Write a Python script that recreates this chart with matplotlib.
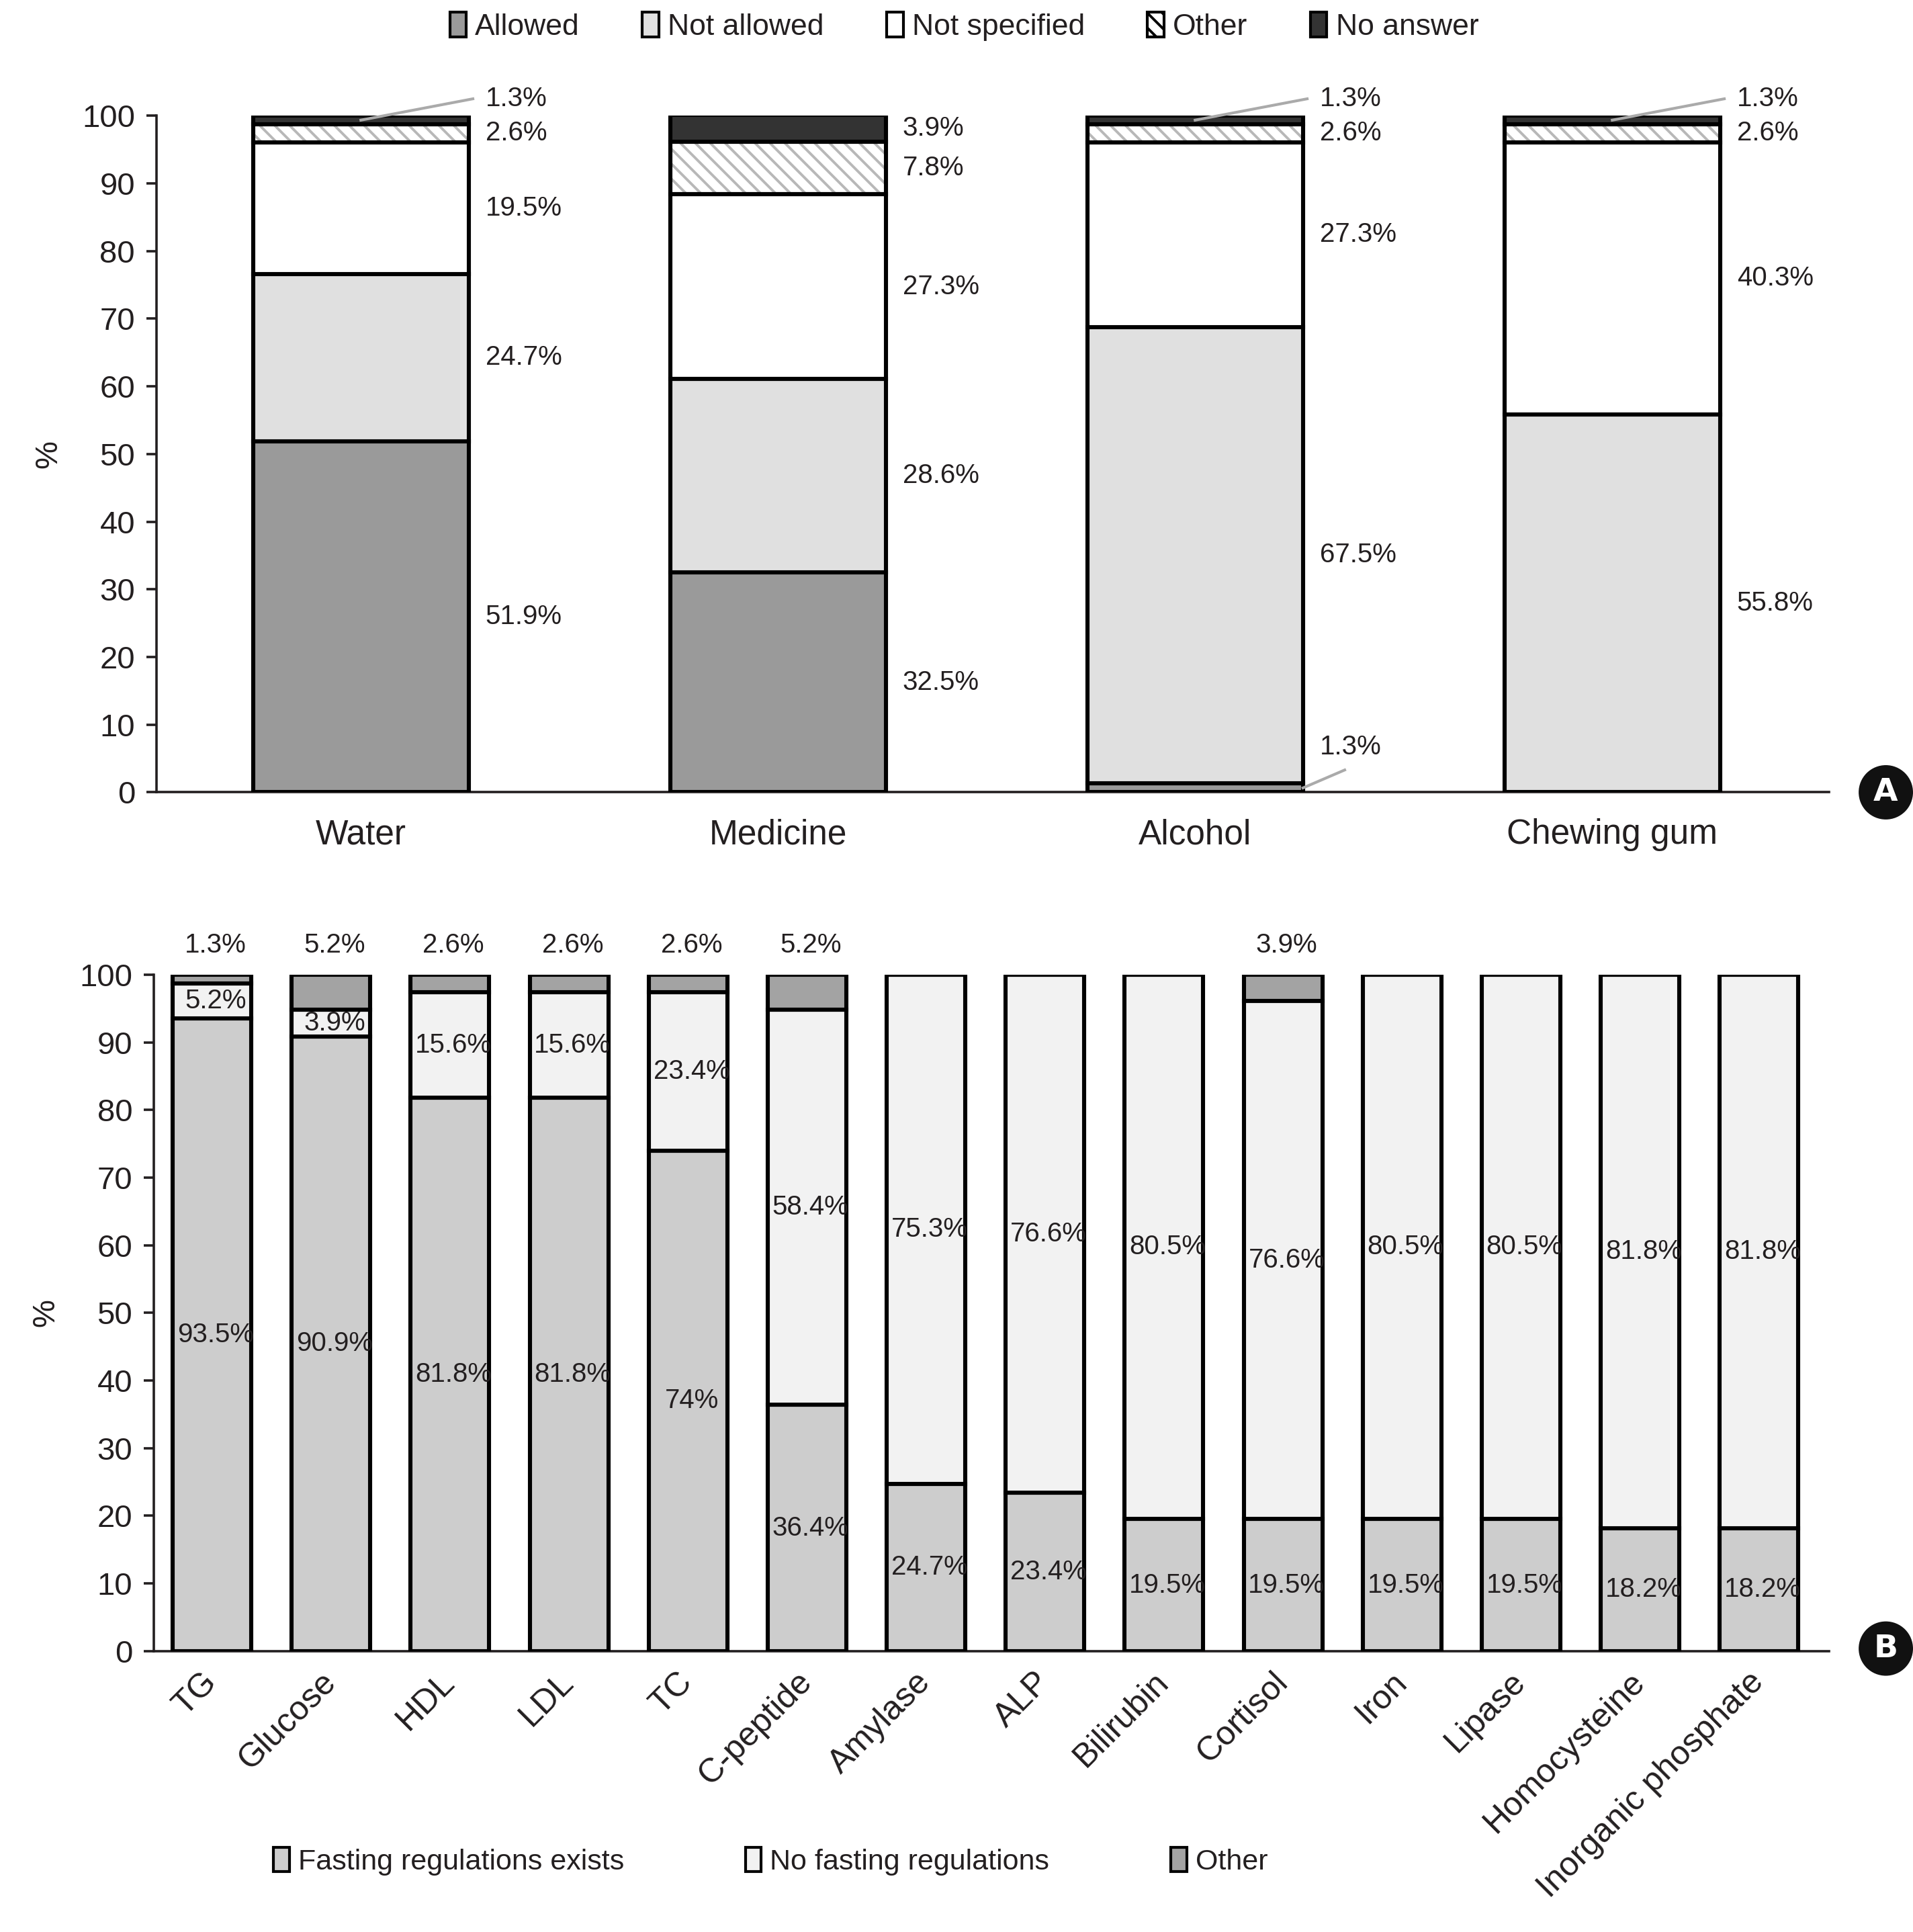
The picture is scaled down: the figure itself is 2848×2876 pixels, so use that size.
import matplotlib
matplotlib.use("Agg")
import matplotlib.pyplot as plt
from matplotlib.patches import Patch
from matplotlib import font_manager
import numpy as np

# ---------------- data ----------------
cats_a = ["Water", "Medicine", "Alcohol", "Chewing gum"]
series_a = ["Allowed", "Not allowed", "Not specified", "Other", "No answer"]
allowed = [51.9, 32.5, 1.3, 0.0]
not_allowed = [24.7, 28.6, 67.5, 55.8]
not_specified = [19.5, 27.3, 27.3, 40.3]
other_a = [2.6, 7.8, 2.6, 2.6]
no_answer = [1.3, 3.9, 1.3, 1.3]

cats_b = ["TG", "Glucose", "HDL", "LDL", "TC", "C-peptide", "Amylase", "ALP",
          "Bilirubin", "Cortisol", "Iron", "Lipase", "Homocysteine",
          "Inorganic phosphate"]
series_b = ["Fasting regulations exists", "No fasting regulations", "Other"]
fasting = [93.5, 90.9, 81.8, 81.8, 74, 36.4, 24.7, 23.4, 19.5, 19.5, 19.5, 19.5, 18.2, 18.2]
no_fasting = [5.2, 3.9, 15.6, 15.6, 23.4, 58.4, 75.3, 76.6, 80.5, 76.6, 80.5, 80.5, 81.8, 81.8]
other_b = [1.3, 5.2, 2.6, 2.6, 2.6, 5.2, 0, 0, 0, 3.9, 0, 0, 0, 0]
yticks = list(range(0, 101, 10))

# ---------------- style ----------------
avail = {f.name for f in font_manager.fontManager.ttflist}
fam = ["Liberation Sans Narrow", "DejaVu Sans"] if "Liberation Sans Narrow" in avail else ["Liberation Sans", "DejaVu Sans"]
plt.rcParams["font.family"] = fam
plt.rcParams["hatch.linewidth"] = 1.4
TXT = "#231f20"

fig = plt.figure(figsize=(14.24, 14.38), dpi=200)

def fmt(v):
    return f"{v:g}%"

def style_axes(ax):
    for s in ["top", "right"]:
        ax.spines[s].set_visible(False)
    ax.spines["left"].set_linewidth(1.3)
    ax.spines["bottom"].set_linewidth(1.3)
    ax.spines["left"].set_color(TXT)
    ax.spines["bottom"].set_color(TXT)
    ax.set_ylim(0, 100)
    ax.set_yticks(yticks)
    ax.tick_params(axis="y", direction="out", length=5.5, width=1.3, labelsize=17,
                   colors=TXT, pad=6)
    ax.tick_params(axis="x", length=0)
    ax.set_ylabel("%", fontsize=17, color=TXT, labelpad=10)

# ---------------- panel A ----------------
axA = fig.add_axes([0.0818, 0.5899, 0.8744, 0.3502])
xa = np.arange(len(cats_a))
wa = 0.517
fills_a = ["#9a9a9a", "#e0e0e0", "#ffffff", "#ffffff", "#333333"]
data_a = [allowed, not_allowed, not_specified, other_a, no_answer]
bottom = np.zeros(len(cats_a))
for k, (vals, fc) in enumerate(zip(data_a, fills_a)):
    vals = np.array(vals)
    if series_a[k] == "Other":
        axA.bar(xa, vals, wa, bottom=bottom, color="white", edgecolor="#b8b8b8",
                hatch="\\\\\\", linewidth=0, zorder=2)
        axA.bar(xa, vals, wa, bottom=bottom, fill=False, edgecolor="black",
                linewidth=2.2, zorder=3)
    else:
        axA.bar(xa, vals, wa, bottom=bottom, color=fc, edgecolor="black",
                linewidth=2.2, zorder=3)
    for i, v in enumerate(vals):
        if v <= 0:
            continue
        xr = xa[i] + wa / 2
        yc = bottom[i] + v / 2
        if v < 2 and k == len(data_a) - 1:
            ty = 102.5
            axA.plot([xa[i], xr + 0.01], [bottom[i] + v / 2, ty], color="#aaaaaa",
                     lw=1.5, clip_on=False, zorder=4)
        elif v < 2 and k == 0:
            ty = 6.7
            axA.plot([xr, xr + 0.1], [bottom[i] + v / 2, 3.3], color="#aaaaaa",
                     lw=1.5, clip_on=False, zorder=4)
        else:
            ty = yc
        axA.text(xr + 0.04, ty, fmt(v), ha="left", va="center", fontsize=14.5,
                 color=TXT, clip_on=False)
    bottom += vals
axA.set_xlim(-0.49, 3.52)
axA.set_xticks(xa)
axA.set_xticklabels(cats_a, fontsize=18.5, color=TXT)
axA.tick_params(axis="x", pad=14)
style_axes(axA)

handles_a = [Patch(facecolor=c, edgecolor="black", linewidth=1.5,
                   hatch=("\\\\\\" if s == "Other" else None))
             for s, c in zip(series_a, fills_a)]
leg = fig.legend(handles_a, series_a, loc="center", bbox_to_anchor=(0.504, 0.9864),
                 ncol=5, frameon=False, fontsize=16, handlelength=0.55,
                 handleheight=0.9, handletextpad=0.3, columnspacing=2.1)
for t in leg.get_texts():
    t.set_color(TXT)

# ---------------- panel B ----------------
axB = fig.add_axes([0.0805, 0.1454, 0.8757, 0.3501])
xb = np.arange(len(cats_b))
wb = 0.66
fills_b = ["#cdcdcd", "#f2f2f2", "#a3a3a3"]
data_b = [fasting, no_fasting, other_b]
bottom = np.zeros(len(cats_b))
for k, (vals, fc) in enumerate(zip(data_b, fills_b)):
    vals = np.array(vals, dtype=float)
    axB.bar(xb, vals, wb, bottom=bottom, color=fc, edgecolor="black",
            linewidth=2.2, zorder=3)
    for i, v in enumerate(vals):
        if v <= 0:
            continue
        ty = 104.4 if k == 2 else bottom[i] + v / 2
        axB.text(xb[i] + 0.03, ty, fmt(v), ha="center", va="center", fontsize=14.5,
                 color=TXT, clip_on=False, zorder=5)
    bottom += vals
axB.set_xlim(-0.487, 13.59)
axB.set_xticks(xb)
axB.set_xticklabels(cats_b, fontsize=18, color=TXT, rotation=45, ha="right",
                    va="center", rotation_mode="anchor")
axB.tick_params(axis="x", pad=14)
style_axes(axB)

handles_b = [Patch(facecolor=c, edgecolor="black", linewidth=1.5) for c in fills_b]
legb = fig.legend(handles_b, series_b, loc="center", bbox_to_anchor=(0.4028, 0.0365),
                  ncol=3, frameon=False, fontsize=15.5, handlelength=0.55,
                  handleheight=0.9, handletextpad=0.3, columnspacing=4.2)
for t in legb.get_texts():
    t.set_color(TXT)

# panel markers
for lab, y in [("A", 0.5899), ("B", 0.1467)]:
    fig.text(0.9858, y, lab, ha="center", va="center", fontsize=17, color="white",
             fontweight="bold", family=["DejaVu Sans"],
             bbox=dict(boxstyle="circle,pad=0.38", fc="#111111", ec="none"))

fig.savefig("out.png", dpi=200, facecolor="white")
